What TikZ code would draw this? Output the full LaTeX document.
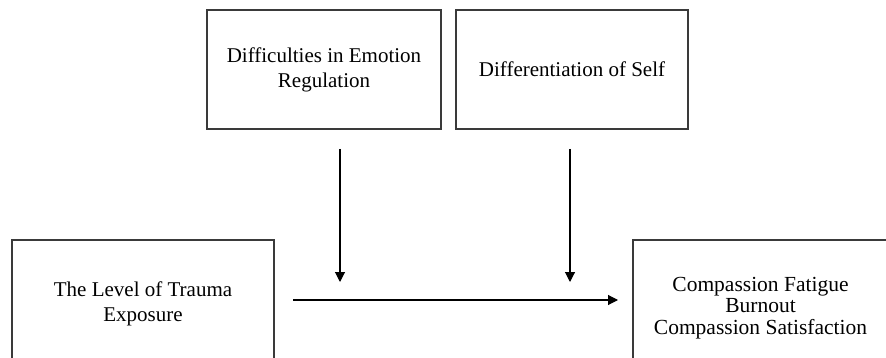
\documentclass[tikz,border=0pt]{standalone}
\usepackage{fontspec}
\setmainfont{Liberation Serif}
\usetikzlibrary{arrows.meta}
\definecolor{boxline}{HTML}{3A3A3A}
\tikzset{frame/.style={draw=boxline,line width=1.2pt,inner sep=4pt,align=center,font=\fontsize{21}{25}\selectfont},path arrow/.style={-{Triangle[length=10pt,width=10pt]},line width=1.1pt}}

\begin{document}
\begin{tikzpicture}[x=1pt,y=1pt]
 \useasboundingbox (0,0) rectangle (886,-358);
 \clip (0,0) rectangle (886,-358);
 \node[frame,minimum width=234,minimum height=119] (emo) at (324,-69.5) {Difficulties in Emotion\\Regulation};
 \node[frame,minimum width=232,minimum height=119] (self) at (572,-69.5) {Differentiation of Self};
 \node[frame,minimum width=262,minimum height=128] (trauma) at (143,-304) {The Level of Trauma\\Exposure};
 \node[frame,minimum width=255,minimum height=136,font=\fontsize{21.5}{21.5}\selectfont] (comp) at (760.5,-308) {Compassion Fatigue\\Burnout\\Compassion Satisfaction};
 \coordinate (x start) at (293,-300);
 \coordinate (x end) at (618,-300);
 \draw[path arrow] (x start) -- (x end);
 \foreach \n/\xx in {emo/340,self/570} {
   \coordinate (\n top) at (\xx,-149);
   \coordinate (\n tip) at (\xx,-282);
   \draw[path arrow] (\n top) -- (\n tip);
 }
\end{tikzpicture}
\end{document}
